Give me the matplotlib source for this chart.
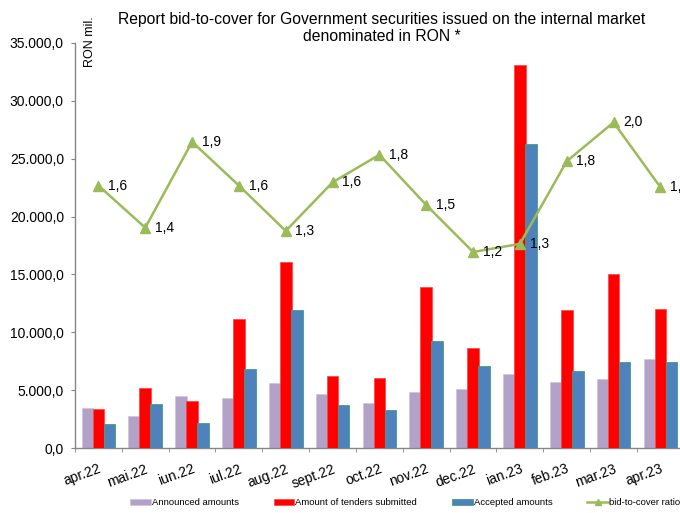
import numpy as np
import matplotlib
matplotlib.use("Agg")
import matplotlib.pyplot as plt
from matplotlib.ticker import FuncFormatter, FixedLocator

plt.rcParams["font.family"] = ["Liberation Sans", "DejaVu Sans"]

months = ["apr.22", "mai.22", "iun.22", "iul.22", "aug.22", "sept.22", "oct.22",
          "nov.22", "dec.22", "ian.23", "feb.23", "mar.23", "apr.23"]
announced = [3460, 2770, 4490, 4290, 5620, 4670, 3920, 4810, 5100, 6400, 5730, 5960, 7660]
submitted = [3370, 5210, 4030, 11180, 16070, 6190, 6020, 13890, 8610, 33100, 11900, 15040, 11980]
accepted = [2050, 3800, 2130, 6860, 11900, 3750, 3310, 9220, 7090, 26280, 6680, 7460, 7430]
ratio = [1.62, 1.36, 1.89, 1.62, 1.34, 1.64, 1.81, 1.50, 1.21, 1.26, 1.77, 2.01, 1.61]

GRAY = "#868686"


def ro_fmt(v, pos=None):
    s = f"{v:,.1f}"
    return s.replace(",", "X").replace(".", ",").replace("X", ".")


fig = plt.figure(figsize=(6.8, 5.13), dpi=100)
ax = fig.add_axes([0.1103, 0.1267, 0.8953, 0.7895])

x = np.arange(len(months))
w = 0.25
off = 0.235
ax.bar(x - off, announced, w, color="#B3A2C7", edgecolor="#CFC3DD", linewidth=0.5,
       label="Announced amounts", zorder=2)
ax.bar(x, submitted, w, color="#FF0000", edgecolor="#FF4040", linewidth=0.5,
       label="Amount of tenders submitted", zorder=3)
ax.bar(x + off, accepted, w, color="#4F81BD", edgecolor="#3E9F7C", linewidth=0.6,
       label="Accepted amounts", zorder=4)

ax.set_xlim(-0.5, len(months) - 0.5)
ax.set_ylim(0, 35000)
ax.set_yticks(np.arange(0, 35001, 5000))
ax.yaxis.set_major_formatter(FuncFormatter(ro_fmt))
ax.tick_params(axis="y", direction="out", length=3, color=GRAY, labelsize=10, pad=5)

ax.set_xticks(x)
ax.set_xticklabels(months, rotation=20, ha="right", rotation_mode="anchor", fontsize=10)
ax.tick_params(axis="x", which="major", length=0, pad=10)
ax.xaxis.set_minor_locator(FixedLocator(np.arange(-0.5, len(months), 1.0)))
ax.tick_params(axis="x", which="minor", direction="out", length=3, color=GRAY)

for side in ["top", "right"]:
    ax.spines[side].set_visible(False)
for side in ["left", "bottom"]:
    ax.spines[side].set_color(GRAY)
    ax.spines[side].set_linewidth(1.0)

# secondary axis for the ratio (hidden)
ax2 = ax.twinx()
ax2.set_ylim(0, 2.5)
ax2.axis("off")
ax2.plot(x, ratio, color="#9BBB59", linewidth=1.8, marker="^", markersize=7,
         label="bid-to-cover ratio")
for xi, r in zip(x, ratio):
    ax2.annotate(f"{r:.1f}".replace(".", ","), (xi, r), xytext=(7, 0),
                 textcoords="offset points", ha="left", va="center", fontsize=10,
                 annotation_clip=False)

fig.text(0.561, 0.945, "Report bid-to-cover for Government securities issued on the internal market\n"
         "denominated in RON *", ha="center", va="center", fontsize=11.3, linespacing=1.15)
fig.text(0.133, 0.919, "RON mil.", rotation=90, ha="center", va="center", fontsize=9)

h1, l1 = ax.get_legend_handles_labels()
h2, l2 = ax2.get_legend_handles_labels()
fig.legend(h1 + h2, l1 + l2, loc="center left", bbox_to_anchor=(0.191, 0.0195),
           ncol=4, frameon=False, fontsize=6.8, handlelength=2.2, handletextpad=0.1,
           columnspacing=3.7, borderpad=0, borderaxespad=0, handleheight=0.6,
           markerscale=0.6)

fig.savefig("out.png", dpi=100)
